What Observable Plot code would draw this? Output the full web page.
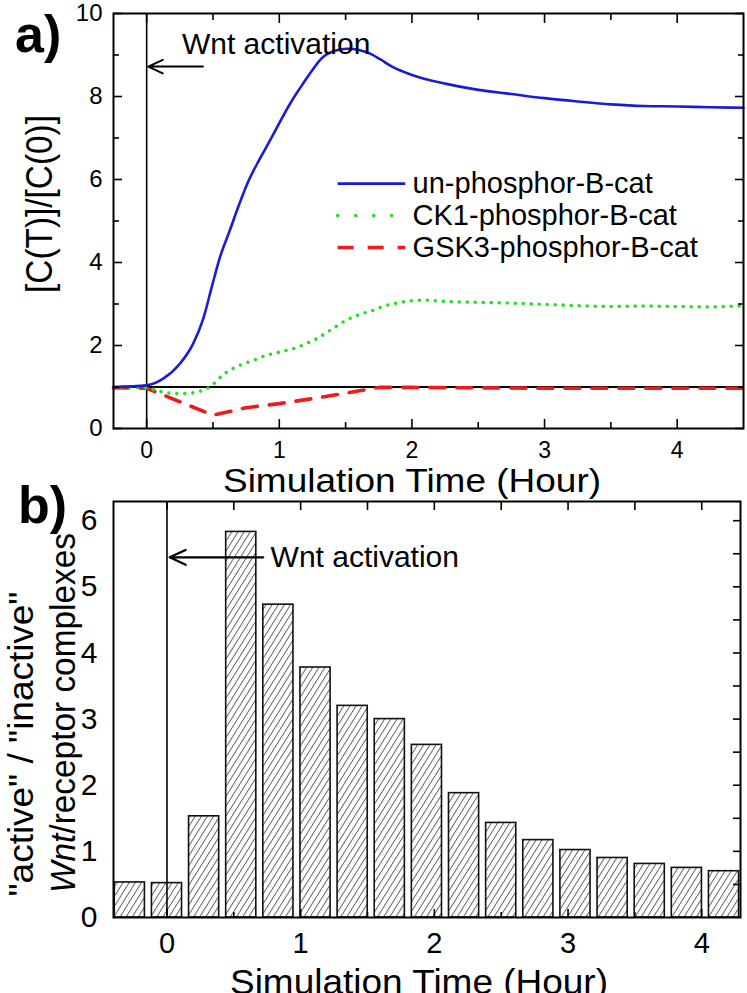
<!DOCTYPE html>
<html><head><meta charset="utf-8">
<script src="https://cdn.jsdelivr.net/npm/d3@7"></script>
<script src="https://cdn.jsdelivr.net/npm/@observablehq/plot@0.6"></script>
<style>
html,body{margin:0;padding:0;background:#fff;}
#wrap{position:relative;width:747px;height:993px;overflow:hidden;background:#fff;}
#wrap svg{position:absolute;left:0;}
</style></head><body><div id="wrap"></div>
<script>
// ---------- Panel a data (time in hours, ratio C(T)/C(0)) ----------
const blueT = [-0.25, 0, 0.125, 0.25, 0.35, 0.43, 0.49, 0.55, 0.63, 0.70, 0.77, 0.85, 0.93, 1.0, 1.08, 1.16, 1.23, 1.33, 1.42, 1.51, 1.6, 1.68, 1.76, 1.85, 2.0, 2.25, 2.5, 2.75, 3.0, 3.25, 3.5, 3.75, 4.0, 4.25, 4.5];
const blueV = [1.0, 1.04, 1.2, 1.56, 2.04, 2.68, 3.4, 4.1, 4.8, 5.42, 5.98, 6.48, 6.94, 7.36, 7.82, 8.22, 8.55, 8.95, 9.1, 9.15, 9.12, 9.04, 8.9, 8.72, 8.52, 8.31, 8.16, 8.06, 7.96, 7.88, 7.81, 7.77, 7.76, 7.74, 7.73];
const greenT = [-0.25, 0, 0.075, 0.15, 0.25, 0.35, 0.43, 0.5, 0.53, 0.6, 0.7, 0.8, 0.9, 1.0, 1.1, 1.2, 1.28, 1.4, 1.5, 1.6, 1.7, 1.8, 1.9, 2.0, 2.1, 2.25, 2.5, 2.75, 3.0, 3.25, 3.5, 3.75, 4.0, 4.25, 4.5];
const greenV = [1.0, 0.98, 0.92, 0.86, 0.84, 0.86, 0.93, 1.06, 1.16, 1.35, 1.52, 1.64, 1.76, 1.84, 1.92, 2.04, 2.16, 2.4, 2.6, 2.74, 2.84, 2.96, 3.03, 3.08, 3.09, 3.06, 3.04, 3.02, 2.99, 2.96, 2.94, 2.95, 2.94, 2.93, 2.96];
const redT = [-0.25, 0, 0.5, 0.75, 1.0, 1.25, 1.5, 1.75, 2.0, 2.5, 3.0, 3.5, 4.0, 4.5];
const redV = [0.98, 0.97, 0.32, 0.5, 0.6, 0.72, 0.85, 0.99, 0.99, 0.98, 0.97, 0.97, 0.97, 0.97];
const seriesNames = ["un-phosphor-B-cat", "CK1-phosphor-B-cat", "GSK3-phosphor-B-cat"];
const legendY = [5.9, 5.13, 4.36];
const ticksAxMajor = [0, 1, 2, 3, 4];
const ticksAxMinor = [0.5, 1.5, 2.5, 3.5];
const ticksAyMajor = [0, 2, 4, 6, 8, 10];
const ticksAyMinor = [1, 3, 5, 7, 9];

// ---------- Panel b data (1000 s bins, ratio active/inactive) ----------
const barSeconds = [-1000, 0, 1000, 2000, 3000, 4000, 5000, 6000, 7000, 8000, 9000, 10000, 11000, 12000, 13000, 14000, 15000];
const barValues = [0.53, 0.52, 1.53, 5.83, 4.73, 3.78, 3.2, 3.0, 2.61, 1.88, 1.43, 1.17, 1.02, 0.9, 0.81, 0.75, 0.7];
const ticksBxMajor = [0, 1, 2, 3, 4];
const ticksBxMinor = [0.5, 1.5, 2.5, 3.5];
const ticksBxTop = [0, 0.5, 1, 1.5, 2, 2.5, 3, 3.5, 4];
const ticksBy = [0, 1, 2, 3, 4, 5, 6];
const ticksByRight = [0.5, 1, 1.5, 2, 2.5, 3, 3.5, 4, 4.5, 5, 5.5, 6];

const annotText = "Wnt activation";

const font = '"Liberation Sans", Arial, sans-serif';
const toRows = (T, V) => T.map((t, i) => ({t, v: V[i]}));
const blue = toRows(blueT, blueV), green = toRows(greenT, greenV), red = toRows(redT, redV);
const COL = {blue: "#1b1bd4", green: "#22e022", red: "#ee1b1b"};
const blank = () => "";
const intFmt = d => String(d);

const plotA = Plot.plot({
  width: 747, height: 500,
  marginLeft: 113, marginRight: 4, marginTop: 13, marginBottom: 72,
  x: {domain: [-0.25, 4.5], label: null},
  y: {domain: [0, 10], label: null},
  style: {fontFamily: font, background: "transparent", color: "black"},
  marks: [
    Plot.ruleY([1], {stroke: "black", strokeWidth: 1.8}),
    Plot.ruleX([0], {stroke: "black", strokeWidth: 1.6}),
    Plot.line(red, {x: "t", y: "v", stroke: COL.red, strokeWidth: 3.6, strokeDasharray: "15 12"}),
    Plot.line(green, {x: "t", y: "v", stroke: COL.green, strokeWidth: 3.6, strokeDasharray: "0 8", strokeLinecap: "round", curve: "monotone-x"}),
    Plot.line(blue, {x: "t", y: "v", stroke: COL.blue, strokeWidth: 2.6, curve: "monotone-x"}),
    // legend
    Plot.link([legendY[0]], {x1: 1.44, x2: 1.95, y1: d => d, y2: d => d, stroke: COL.blue, strokeWidth: 2.6}),
    Plot.link([legendY[1]], {x1: 1.44, x2: 1.95, y1: d => d, y2: d => d, stroke: COL.green, strokeWidth: 3.6, strokeDasharray: "0 18", strokeLinecap: "round"}),
    Plot.link([legendY[2]], {x1: 1.44, x2: 1.95, y1: d => d, y2: d => d, stroke: COL.red, strokeWidth: 3.6, strokeDasharray: "16 14"}),
    Plot.text(seriesNames, {x: 2.005, y: (d, i) => legendY[i], text: d => d, textAnchor: "start", lineAnchor: "middle", fontSize: 29, fill: "black"}),
    // annotation
    Plot.arrow([0], {x1: 0.424, x2: 0.012, y1: 8.72, y2: 8.72, stroke: "black", strokeWidth: 2, headLength: 12, headAngle: 50}),
    Plot.text([annotText], {x: 0.266, y: 9.26, text: d => d, textAnchor: "start", lineAnchor: "middle", fontSize: 30, fill: "black"}),
    // axes
    Plot.axisX(ticksAxMajor, {anchor: "bottom", tickSize: -9, tickPadding: 22, fontSize: 23, strokeWidth: 1.6, tickFormat: intFmt, label: null}),
    Plot.axisX(ticksAxMinor, {anchor: "bottom", tickSize: -6, tickFormat: blank, strokeWidth: 1.6, label: null}),
    Plot.axisX(ticksAxMajor, {anchor: "top", tickSize: -9, tickFormat: blank, strokeWidth: 1.6, label: null}),
    Plot.axisX(ticksAxMinor, {anchor: "top", tickSize: -6, tickFormat: blank, strokeWidth: 1.6, label: null}),
    Plot.axisY(ticksAyMajor, {anchor: "left", tickSize: -9, tickPadding: 20, fontSize: 24, strokeWidth: 1.6, tickFormat: intFmt, label: null}),
    Plot.axisY(ticksAyMinor, {anchor: "left", tickSize: -6, tickFormat: blank, strokeWidth: 1.6, label: null}),
    Plot.axisY(ticksAyMajor, {anchor: "right", tickSize: -9, tickFormat: blank, strokeWidth: 1.6, label: null}),
    Plot.axisY(ticksAyMinor, {anchor: "right", tickSize: -6, tickFormat: blank, strokeWidth: 1.6, label: null}),
    Plot.frame({stroke: "black", strokeWidth: 2})
  ]
});

const bars = barSeconds.map((s, i) => ({s, v: barValues[i]}));
const plotB = Plot.plot({
  width: 747, height: 513,
  marginLeft: 113, marginRight: 7, marginTop: 21, marginBottom: 76,
  x: {domain: [-0.4, 4.29], label: null},
  y: {domain: [0, 6.29], label: null},
  style: {fontFamily: font, background: "transparent", color: "black"},
  marks: [
    Plot.rect(bars, {x1: d => (d.s - 500) / 3600, x2: d => (d.s + 500) / 3600, y1: 0, y2: "v", insetLeft: 3.5, insetRight: 3.5, fill: "url(#hatch)", stroke: "#111", strokeWidth: 1.6}),
    Plot.ruleX([0], {stroke: "black", strokeWidth: 1.6}),
    Plot.arrow([0], {x1: 0.72, x2: 0.02, y1: 5.446, y2: 5.446, stroke: "black", strokeWidth: 2.2, headLength: 12, headAngle: 50}),
    Plot.text([annotText], {x: 0.775, y: 5.446, text: d => d, textAnchor: "start", lineAnchor: "middle", fontSize: 30, fill: "black"}),
    Plot.axisX(ticksBxMajor, {anchor: "bottom", tickSize: -8, tickPadding: 23, fontSize: 29, strokeWidth: 1.6, tickFormat: intFmt, label: null}),
    Plot.axisX(ticksBxMinor, {anchor: "bottom", tickSize: -5, tickFormat: blank, strokeWidth: 1.6, label: null}),
    Plot.axisX(ticksBxTop, {anchor: "top", tickSize: -8, tickFormat: blank, strokeWidth: 1.6, label: null}),
    Plot.axisY(ticksBy, {anchor: "left", tickSize: 0, tickPadding: 16, fontSize: 30, tickFormat: intFmt, label: null}),
    Plot.axisY(ticksByRight, {anchor: "right", tickSize: -8, tickFormat: blank, strokeWidth: 1.6, label: null}),
    Plot.frame({stroke: "black", strokeWidth: 2})
  ]
});

// hatch pattern for the bars
const defs = d3.select(plotB).insert("defs", ":first-child");
const pat = defs.append("pattern").attr("id", "hatch").attr("patternUnits", "userSpaceOnUse")
  .attr("width", 5.2).attr("height", 10).attr("patternTransform", "rotate(32)");
pat.append("rect").attr("width", 5.2).attr("height", 10).attr("fill", "white");
pat.append("line").attr("x1", 0.5).attr("y1", 0).attr("x2", 0.5).attr("y2", 10).attr("stroke", "#555").attr("stroke-width", 0.9);

const wrap = document.getElementById("wrap");
plotA.style.top = "0px";
plotB.style.top = "480px";
wrap.appendChild(plotB);
wrap.appendChild(plotA);

// titles and panel labels
const ov = d3.select(wrap).append("svg").attr("width", 747).attr("height", 993)
  .style("top", "0px").style("pointer-events", "none").style("font-family", font);
ov.append("text").attr("x", 15).attr("y", 52).attr("font-size", 52).attr("font-weight", "bold").text("a)");
ov.append("text").attr("x", 18).attr("y", 523).attr("font-size", 52).attr("font-weight", "bold").text("b)");
ov.append("text").attr("transform", "translate(52,204) rotate(-90)").attr("text-anchor", "middle")
  .attr("font-size", 36).attr("textLength", 178).attr("lengthAdjust", "spacingAndGlyphs").text("[C(T)]/[C(0)]");
ov.append("text").attr("x", 412).attr("y", 492).attr("text-anchor", "middle")
  .attr("font-size", 34).attr("textLength", 378).attr("lengthAdjust", "spacingAndGlyphs").text("Simulation Time (Hour)");
ov.append("text").attr("x", 419).attr("y", 994).attr("text-anchor", "middle")
  .attr("font-size", 35).attr("textLength", 378).attr("lengthAdjust", "spacingAndGlyphs").text("Simulation Time (Hour)");
ov.append("text").attr("transform", "translate(33,744) rotate(-90)").attr("text-anchor", "middle")
  .attr("font-size", 35).attr("textLength", 305).attr("lengthAdjust", "spacingAndGlyphs").text('"active" / "inactive"');
const l2 = ov.append("text").attr("transform", "translate(75,713) rotate(-90)").attr("text-anchor", "middle")
  .attr("font-size", 35).attr("textLength", 360).attr("lengthAdjust", "spacingAndGlyphs");
l2.append("tspan").attr("font-style", "italic").text("Wnt");
l2.append("tspan").text("/receptor complexes");
</script>
</body></html>
